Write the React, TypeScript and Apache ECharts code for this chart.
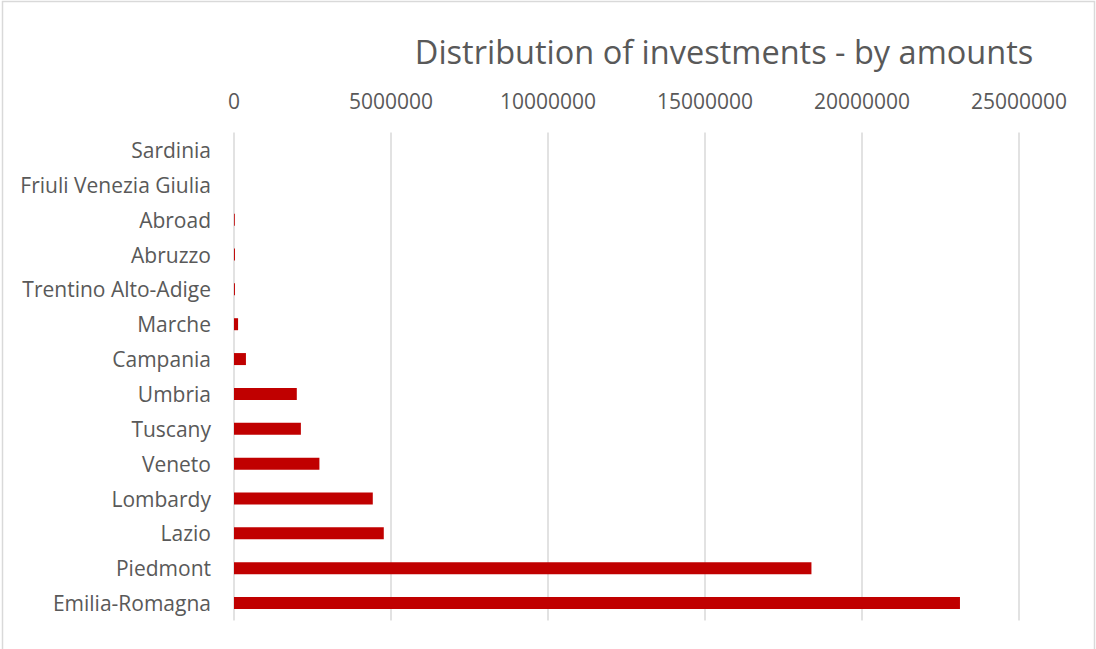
import React, { useEffect, useRef } from "react";
import * as echarts from "echarts";

const regions = [
  "Emilia-Romagna",
  "Piedmont",
  "Lazio",
  "Lombardy",
  "Veneto",
  "Tuscany",
  "Umbria",
  "Campania",
  "Marche",
  "Trentino Alto-Adige",
  "Abruzzo",
  "Abroad",
  "Friuli Venezia Giulia",
  "Sardinia",
];

const amounts = [
  23120000, 18390000, 4770000, 4420000, 2720000, 2130000, 2000000, 380000,
  130000, 30000, 30000, 25000, 0, 0,
];

const axisTicks = [0, 5000000, 10000000, 15000000, 20000000, 25000000];

export default function App() {
  const ref = useRef<HTMLDivElement>(null);
  useEffect(() => {
    document.body.style.margin = "0";
    if (!ref.current) return;
    const chart = echarts.init(ref.current, null, { renderer: "svg" });
    const font = "'Open Sans', sans-serif";
    chart.setOption({
      animation: false,
      backgroundColor: "#ffffff",
      title: {
        text: "Distribution of investments - by amounts",
        left: 719,
        top: 30,
        textAlign: "center",
        textStyle: {
          fontFamily: font,
          fontSize: 32.5,
          fontWeight: "normal",
          color: "#595959",
        },
      },
      graphic: [
        {
          type: "rect",
          shape: { x: 2.5, y: 1.5, width: 1092, height: 660 },
          style: { fill: "none", stroke: "#d9d9d9", lineWidth: 1.5 },
          silent: true,
        },
      ],
      grid: { left: 234, right: 77, top: 132.5, bottom: 28.5 },
      xAxis: {
        type: "value",
        position: "top",
        min: axisTicks[0],
        max: axisTicks[axisTicks.length - 1],
        interval: 5000000,
        axisLine: { show: false },
        axisTick: { show: false },
        splitLine: { lineStyle: { color: "#d9d9d9", width: 1.5 } },
        axisLabel: {
          color: "#595959",
          fontFamily: font,
          fontSize: 21,
          margin: 21,
          formatter: (v: number) => String(v),
        },
      },
      yAxis: {
        type: "category",
        data: regions,
        axisLine: { show: false },
        axisTick: { show: false },
        axisLabel: {
          color: "#595959",
          fontFamily: font,
          fontSize: 21,
          margin: 23,
          lineHeight: 21,
        },
      },
      series: [
        {
          type: "bar",
          data: amounts,
          barWidth: 12,
          itemStyle: { color: "#c00000" },
        },
      ],
    });
    return () => chart.dispose();
  }, []);
  return <div ref={ref} style={{ width: 1096, height: 649 }} />;
}
